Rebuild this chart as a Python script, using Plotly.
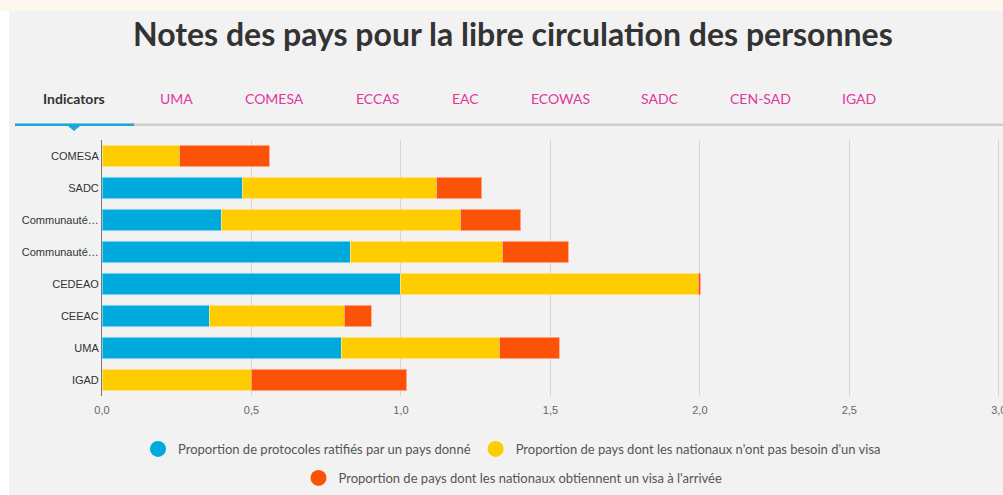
import plotly.graph_objects as go

# ---- data ----
categories = ["COMESA", "SADC", "Communauté d'Afrique de l'Est", "Communauté des États sahélo-sahariens",
              "CEDEAO", "CEEAC", "UMA", "IGAD"]
category_labels = ["COMESA", "SADC", "Communauté…", "Communauté…", "CEDEAO", "CEEAC", "UMA", "IGAD"]
protocoles = [0.0, 0.47, 0.40, 0.83, 1.00, 0.36, 0.80, 0.0]
sans_visa = [0.26, 0.65, 0.80, 0.51, 0.995, 0.45, 0.53, 0.50]
visa_arrivee = [0.30, 0.15, 0.20, 0.22, 0.006, 0.09, 0.20, 0.52]
series_names = ["Proportion de protocoles ratifiés par un pays donné",
                "Proportion de pays dont les nationaux n'ont pas besoin d'un visa",
                "Proportion de pays dont les nationaux obtiennent un visa à l'arrivée"]
x_ticks = [0, 0.5, 1.0, 1.5, 2.0, 2.5, 3.0]
tabs = ["Indicators", "UMA", "COMESA", "ECCAS", "EAC", "ECOWAS", "SADC", "CEN-SAD", "IGAD"]

colors = ["#00A9DB", "#FFCC00", "#FC5206"]
outlines = ["rgba(120,215,240,0.9)", "rgba(255,230,130,0.9)", "rgba(255,170,140,0.9)"]

W, H = 1003, 495
L, R, T, B = 102, 3, 140, 99
PW, PH = W - L - R, H - T - B


def xp(px):
    return (px - L) / PW


def yp(py):
    return (H - B - py) / PH


fig = go.Figure()
for vals, name, c, oc in zip([protocoles, sans_visa, visa_arrivee], series_names, colors, outlines):
    fig.add_trace(go.Bar(y=categories, x=vals, orientation="h", name=name,
                         marker=dict(color=c, line=dict(color=oc, width=1)),
                         showlegend=False))

# legend entries (circles)
for i, (name, c) in enumerate(zip(series_names, colors)):
    fig.add_trace(go.Scatter(x=[None], y=[None], mode="markers", name=name,
                             marker=dict(color=c, size=16, symbol="circle"),
                             legend="legend" if i < 2 else "legend2", showlegend=True))

shapes = [
    # cream strip at the top
    dict(type="rect", xref="paper", yref="paper", x0=xp(0), x1=xp(W), y0=yp(11), y1=yp(0),
         fillcolor="#FDF7EC", line=dict(width=0), layer="below"),
    # white strip on the left
    dict(type="rect", xref="paper", yref="paper", x0=xp(0), x1=xp(9), y0=yp(H), y1=yp(11),
         fillcolor="#FFFFFF", line=dict(width=0), layer="below"),
    # tab underline (gray)
    dict(type="rect", xref="paper", yref="paper", x0=xp(15), x1=xp(W), y0=yp(126), y1=yp(123.5),
         fillcolor="#CFCFCF", line=dict(width=0), layer="below"),
    # active tab underline (blue)
    dict(type="rect", xref="paper", yref="paper", x0=xp(15), x1=xp(134), y0=yp(126), y1=yp(123.5),
         fillcolor="#1BA6D9", line=dict(width=0), layer="below"),
    # triangle marker
    dict(type="path", xref="paper", yref="paper",
         path=f"M {xp(68)} {yp(126)} L {xp(80)} {yp(126)} L {xp(74)} {yp(131)} Z",
         fillcolor="#1BA6D9", line=dict(width=0), layer="below"),
]

annotations = [
    dict(text="<b>Notes des pays pour la libre circulation des personnes</b>", xref="paper", yref="paper",
         x=xp(513), y=yp(33), xanchor="center", yanchor="middle", showarrow=False,
         font=dict(family="Lato", size=32, color="#333333")),
]
tab_centers = [74, 176, 274, 377, 465, 560, 660, 760, 859]
for t, cx in zip(tabs, tab_centers):
    active = t == "Indicators"
    annotations.append(dict(text=f"<b>{t}</b>" if active else t, xref="paper", yref="paper",
                            x=xp(cx), y=yp(98), xanchor="center", yanchor="middle", showarrow=False,
                            font=dict(family="Lato", size=14, color="#333333" if active else "#E0379F")))

fig.update_layout(
    width=W, height=H,
    margin=dict(l=L, r=R, t=T, b=B, autoexpand=False),
    paper_bgcolor="#F2F2F2", plot_bgcolor="#F2F2F2",
    barmode="stack", bargap=0.34,
    separators=", ",
    shapes=shapes, annotations=annotations,
    xaxis=dict(range=[0, 3.004], tickvals=x_ticks, tickformat=".1f", showgrid=True,
               gridcolor="#D4D4D4", gridwidth=1, zeroline=False, showline=False,
               tickfont=dict(family="Liberation Sans, Arial", size=11, color="#666666"),
               ticks="", ticklabelstandoff=6, ticklabeloverflow="allow", automargin=False,
               fixedrange=True),
    yaxis=dict(categoryorder="array", categoryarray=categories, autorange="reversed",
               tickvals=categories, ticktext=category_labels, showgrid=False,
               showline=True, linecolor="#777777", linewidth=1, zeroline=False,
               tickfont=dict(family="Liberation Sans, Arial", size=11, color="#333333"),
               ticks="", ticklabelstandoff=0, automargin=False),
    legend=dict(orientation="h", xref="container", yref="container", x=512 / W, y=1 - 449 / H,
                xanchor="center", yanchor="middle", bgcolor="rgba(0,0,0,0)", traceorder="normal",
                font=dict(family="Lato", size=13, color="#555555"), itemclick=False),
    legend2=dict(orientation="h", xref="container", yref="container", x=513 / W, y=1 - 478 / H,
                 xanchor="center", yanchor="middle", bgcolor="rgba(0,0,0,0)", traceorder="normal",
                 font=dict(family="Lato", size=13, color="#555555"), itemclick=False),
)

fig.write_html("out.html", config={"displayModeBar": False},
               post_script="document.body.style.margin='0';document.body.style.padding='0';"
                           "document.body.style.overflow='hidden';")
